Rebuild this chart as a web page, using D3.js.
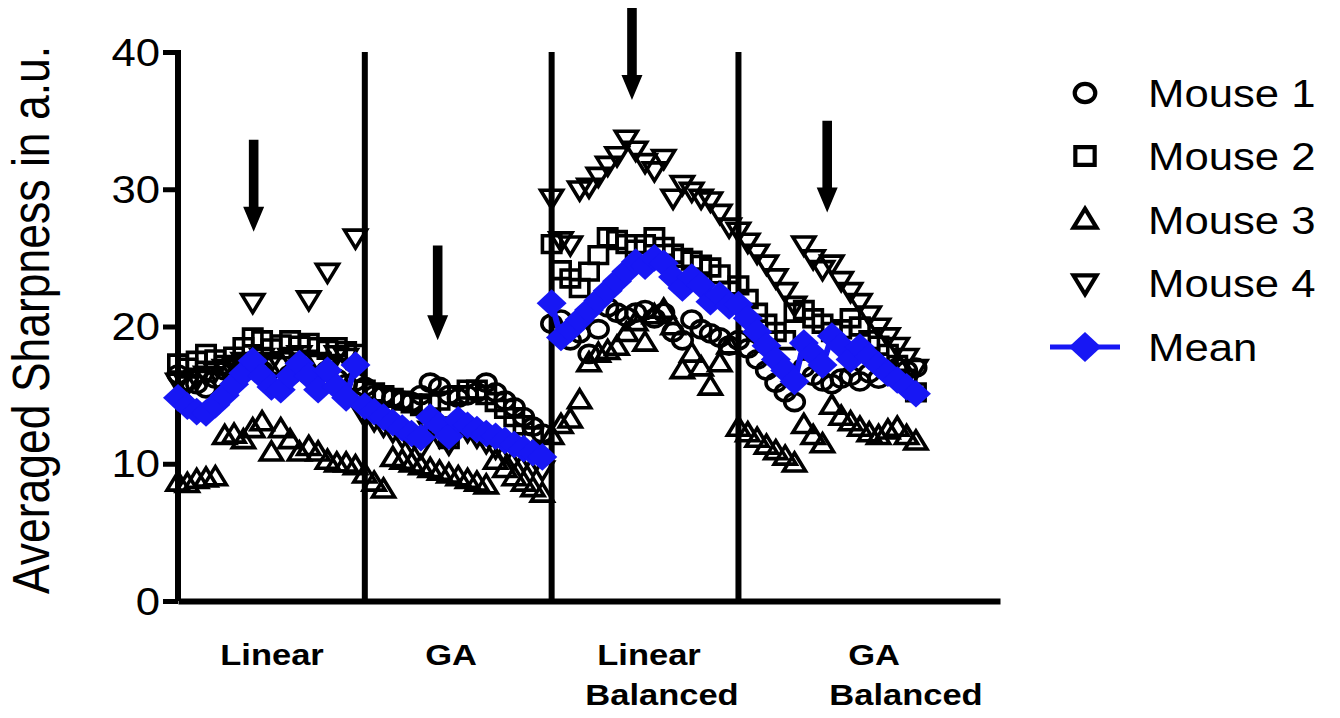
<!DOCTYPE html>
<html>
<head>
<meta charset="utf-8">
<script src="https://cdn.jsdelivr.net/npm/d3@7"></script>
<style>
  html, body { margin: 0; padding: 0; background: #fff; }
  svg { display: block; }
  text { font-family: "Liberation Sans", Arial, Helvetica, sans-serif; fill: #000; }
</style>
</head>
<body>
<svg id="chart" width="1340" height="718"></svg>
<script>
// Four protocol blocks, 20 acquisitions each (x = 20*block + index).
const sections = ["Linear", "GA", "Linear Balanced", "GA Balanced"];
const sectionLines = [["Linear"], ["GA"], ["Linear", "Balanced"], ["GA", "Balanced"]];
const pointsPerSection = 20;

const mouse1 = [
  16.5, 16.0, 15.8, 15.5, 16.2, 16.8, 17.2, 17.0, 17.5, 16.8, 16.0, 15.8, 16.5, 17.0, 16.5, 15.8, 16.8, 16.2, 15.8, 16.0,
  15.6, 15.0, 15.0, 14.8, 14.6, 14.5, 15.0, 15.9, 15.6, 15.0, 14.8, 15.0, 15.2, 15.9, 15.2, 14.6, 14.1, 13.4, 12.7, 12.2,
  20.2, 20.5, 19.0, 19.5, 18.0, 19.8, 21.4, 21.0, 20.7, 21.0, 21.2, 20.6, 21.0, 19.6, 19.0, 20.5, 19.8, 19.5, 19.2, 18.6,
  19.0, 18.4, 17.6, 16.8, 15.9, 15.2, 14.5, 17.0, 16.4, 16.0, 15.8, 16.2, 16.4, 16.0, 16.6, 16.2, 16.8, 17.0, 16.8, 17.0
];
const mouse2 = [
  17.3, 17.0, 17.5, 18.0, 17.6, 17.2, 17.8, 18.5, 19.2, 19.0, 18.4, 18.7, 19.0, 18.6, 18.8, 18.5, 18.3, 18.5, 18.2, 18.0,
  15.4, 15.2, 15.0, 14.8, 14.6, 14.4, 14.2, 14.4, 14.6, 11.8, 15.0, 15.4, 15.4, 15.0, 14.5, 14.0, 13.4, 12.8, 12.0, 11.0,
  26.0, 24.1, 23.5, 22.8, 24.0, 25.2, 26.5, 26.3, 26.0, 25.6, 26.0, 26.5, 25.8, 25.3, 25.0, 24.8, 24.5, 24.3, 23.8, 22.6,
  23.0, 22.0, 21.0, 20.2, 19.6, 19.0, 21.0, 21.2, 20.6, 20.2, 19.6, 19.8, 20.6, 20.0, 19.0, 18.6, 18.0, 17.2, 16.2, 15.2
];
const mouse3 = [
   8.6,  8.5,  8.8,  8.9,  9.0, 12.0, 12.1, 11.7, 12.5, 13.0, 10.8, 12.5, 11.7, 10.8, 11.2, 10.8, 10.2, 10.0, 10.0,  9.8,
   9.2,  8.6,  8.1, 10.4, 10.2, 10.0,  9.8,  9.6,  9.4,  9.2,  9.0,  8.8,  8.6,  8.4, 10.2,  9.6,  9.0,  8.6,  8.2,  7.8,
  12.0, 12.8, 13.2, 14.6, 17.3, 18.0, 18.2, 18.5, 19.5, 20.3, 18.8, 20.8, 21.2, 20.0, 16.8, 18.0, 17.0, 15.6, 17.3, 18.6,
  12.6, 12.2, 11.8, 11.3, 10.9, 10.5, 10.0, 12.8, 12.0, 11.4, 14.2, 13.4, 13.0, 12.6, 12.2, 12.0, 12.4, 12.6, 12.0, 11.6
];
const mouse4 = [
  16.0, 15.8, 16.2, 16.5, 16.8, 17.0, 17.2, 17.5, 21.8, 17.8, 17.5, 17.2, 17.8, 18.0, 22.0, 17.5, 24.0, 18.0, 17.8, 26.5,
  13.5, 13.2, 12.8, 12.4, 12.0, 11.6, 11.2, 12.5, 12.0, 11.5, 12.8, 12.4, 12.0, 11.6, 11.2, 10.8, 10.5, 10.2,  9.9,  9.6,
  29.4, 26.3, 26.0, 30.0, 30.2, 31.0, 31.8, 32.5, 33.7, 32.9, 32.0, 31.4, 32.3, 29.4, 30.4, 29.9, 29.4, 29.2, 28.3, 27.3,
  27.0, 26.2, 25.4, 24.6, 23.6, 22.6, 21.6, 26.0, 25.0, 24.2, 24.6, 23.4, 22.6, 21.8, 20.9, 20.0, 19.3, 18.6, 17.8, 17.0
];
const meanValues = [
  14.8, 14.2, 13.8, 13.7, 14.3, 15.0, 15.8, 16.6, 17.5, 16.4, 15.6, 15.4, 16.4, 17.3, 16.4, 15.4, 16.8, 15.6, 14.8, 17.2,
  14.2, 13.8, 13.4, 13.0, 12.6, 12.2, 11.9, 13.4, 12.8, 12.0, 13.2, 12.8, 12.5, 12.2, 12.0, 11.7, 11.4, 11.1, 10.8, 10.5,
  21.7, 19.2, 19.8, 20.5, 21.2, 21.9, 22.6, 23.3, 24.0, 24.7, 24.4, 25.0, 24.6, 23.6, 22.8, 23.6, 23.0, 21.8, 22.3, 21.5,
  21.6, 20.6, 19.6, 18.6, 17.6, 16.8, 16.0, 18.8, 18.0, 17.2, 19.3, 18.6, 17.6, 18.5, 17.8, 17.2, 16.6, 16.1, 15.6, 15.1
];

const seriesNames = ["Mouse 1", "Mouse 2", "Mouse 3", "Mouse 4", "Mean"];
const seriesShapes = ["circle", "square", "triangleUp", "triangleDown", "diamond"];
const yTicks = [0, 10, 20, 30, 40];

// Arrows marking the selected acquisition in each block: x, shaft top, tip (data units)
const arrowX = [8.1, 27.8, 48.6, 69.5];
const arrowTop = [33.6, 25.9, 43.2, 35.0];
const arrowTip = [26.9, 19.0, 36.5, 28.3];

const BLUE = "#1717f4";
const STRETCH = 1.15; // horizontal text/marker aspect

const svg = d3.select("#chart");
const x = d3.scaleLinear().domain([0, 88]).range([178, 1000]);
const y = d3.scaleLinear().domain([0, 40]).range([601, 52]);

const xOf = i => Math.floor(i / pointsPerSection) * pointsPerSection + (i % pointsPerSection);

// marker paths centred on 0,0
function shapePath(kind, k) {
  const s = k || 1;
  if (kind === "circle") {
    const rx = 9.8 * s, ry = 8.6 * s;
    return `M${rx},0 A${rx},${ry} 0 1,1 ${-rx},0 A${rx},${ry} 0 1,1 ${rx},0Z`;
  }
  if (kind === "square") {
    const hw = 9.2 * s, hh = 8.4 * s;
    return `M${-hw},${-hh}H${hw}V${hh}H${-hw}Z`;
  }
  if (kind === "triangleUp") {
    const hw = 11 * s, h = 18 * s;
    return `M0,${-h * 0.6}L${hw},${h * 0.4}L${-hw},${h * 0.4}Z`;
  }
  if (kind === "triangleDown") {
    const hw = 11 * s, h = 18 * s;
    return `M0,${h * 0.6}L${hw},${-h * 0.4}L${-hw},${-h * 0.4}Z`;
  }
  // diamond
  const hw = 15 * s, hh = 13.8 * s;
  return `M0,${-hh}L${hw},0L0,${hh}L${-hw},0Z`;
}

function stretchedText(g, px, py, str, opts) {
  return g.append("text")
    .attr("transform", `translate(${px},${py}) scale(${STRETCH},1)` + (opts.rotate ? ` rotate(${opts.rotate})` : ""))
    .attr("text-anchor", opts.anchor || "start")
    .style("font-size", opts.size + "px")
    .style("font-weight", opts.weight || "normal")
    .text(str);
}

// separators between blocks
const separators = [20, 40, 60];
svg.append("g").selectAll("line").data(separators).join("line")
  .attr("x1", d => x(d)).attr("x2", d => x(d))
  .attr("y1", y(40)).attr("y2", y(0))
  .attr("stroke", "#000").attr("stroke-width", 6);

// y axis
const yAxis = d3.axisLeft(y).tickValues(yTicks).tickSize(15).tickPadding(4).tickFormat(d3.format("d"));
const ya = svg.append("g").attr("transform", `translate(${x(0)},0)`).call(yAxis);
ya.select(".domain").attr("stroke", "#000").attr("stroke-width", 6)
  .attr("d", `M0,${y(40) - 2}V${y(0)}`);
ya.selectAll(".tick line").attr("stroke", "#000").attr("stroke-width", 5);
ya.selectAll(".tick text").remove();
yTicks.forEach(v => {
  stretchedText(svg, x(0) - 18, y(v) + 13.5, String(v), { size: 38, anchor: "end" });
});

// x axis line
const xa = svg.append("g").attr("transform", `translate(0,${y(0)})`)
  .call(d3.axisBottom(x).tickValues([]).tickSizeOuter(0));
xa.select(".domain").attr("stroke", "#000").attr("stroke-width", 6);

// y title
stretchedText(svg, 49, 320, "Averaged Sharpness in a.u.", { size: 44.5, anchor: "middle", rotate: -90 });

// block labels
const labelPos = [
  [[272, 665]],
  [[451, 665]],
  [[649, 665], [662, 705]],
  [[874, 665], [906, 705]]
];
sectionLines.forEach((lines, si) => {
  lines.forEach((ln, li) => {
    const [lx, ly] = labelPos[si][li];
    stretchedText(svg, lx, ly, ln, { size: 30, anchor: "middle", weight: "bold" });
  });
});

// arrows
const arrows = svg.append("g");
arrowX.forEach((ax, i) => {
  const cx = x(ax), top = y(arrowTop[i]), tip = y(arrowTip[i]);
  const headH = 25, headW = 10.5, shaftW = 4.8;
  arrows.append("path")
    .attr("d", `M${cx - shaftW},${top}H${cx + shaftW}V${tip - headH}H${cx + headW}L${cx},${tip}L${cx - headW},${tip - headH}H${cx - shaftW}Z`)
    .attr("fill", "#000");
});

// mice
const mice = [mouse1, mouse2, mouse3, mouse4];
mice.forEach((vals, mi) => {
  svg.append("g").selectAll("path").data(vals).join("path")
    .attr("transform", (d, i) => `translate(${x(xOf(i))},${y(d)})`)
    .attr("d", shapePath(seriesShapes[mi]))
    .attr("fill", "none")
    .attr("stroke", "#000")
    .attr("stroke-width", 3.6)
    .attr("stroke-linejoin", "miter");
});

// mean: line within each block plus diamonds
const meanG = svg.append("g");
const line = d3.line().x(d => x(d.x)).y(d => y(d.v));
sections.forEach((s, si) => {
  const pts = meanValues.slice(si * pointsPerSection, (si + 1) * pointsPerSection)
    .map((v, j) => ({ x: si * pointsPerSection + j, v }));
  meanG.append("path").attr("d", line(pts))
    .attr("fill", "none").attr("stroke", BLUE).attr("stroke-width", 6);
});
meanG.selectAll("path.dm").data(meanValues).join("path").attr("class", "dm")
  .attr("transform", (d, i) => `translate(${x(xOf(i))},${y(d)})`)
  .attr("d", shapePath("diamond"))
  .attr("fill", BLUE);

// legend
const legend = svg.append("g");
const rowY = [93, 156, 220, 283, 347];
seriesNames.forEach((name, i) => {
  const cy = rowY[i];
  if (seriesShapes[i] === "diamond") {
    legend.append("line").attr("x1", 1050).attr("x2", 1120).attr("y1", cy).attr("y2", cy)
      .attr("stroke", BLUE).attr("stroke-width", 5);
    legend.append("path").attr("transform", `translate(1085,${cy})`)
      .attr("d", shapePath("diamond", 1.08)).attr("fill", BLUE);
  } else {
    legend.append("path").attr("transform", `translate(1085,${cy})`)
      .attr("d", shapePath(seriesShapes[i], 1.05))
      .attr("fill", "none").attr("stroke", "#000").attr("stroke-width", 4.2);
  }
  stretchedText(legend, 1148, cy + 13.5, name, { size: 38 });
});
</script>
</body>
</html>
